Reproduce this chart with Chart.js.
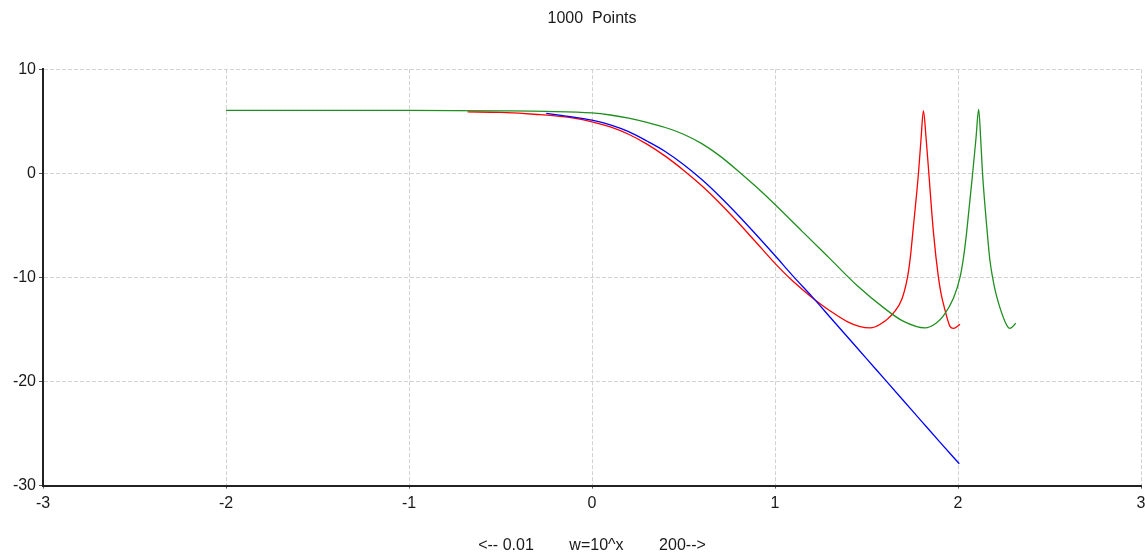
<!DOCTYPE html>
<html>
<head>
<meta charset="utf-8">
<title>1000 Points</title>
<script src="https://cdn.jsdelivr.net/npm/chart.js@4/dist/chart.umd.min.js"></script>
<style>
    body { margin: 0; background: #fff; }
    #bode-graph { display: block; }
</style>
</head>
<body>
<canvas id="bode-graph" width="1145" height="555"></canvas>
<script>
// log10(w) on x, gain in dB on y
const greenX = [-2.0, -1.5, -1.0, -0.5, -0.25, 0, 0.1, 0.2, 0.3, 0.4, 0.5, 0.6, 0.7, 0.8, 0.9, 1.0, 1.15, 1.3, 1.45, 1.6, 1.7, 1.82, 1.88, 1.92, 1.975, 2.011, 2.03, 2.047, 2.080, 2.098, 2.113, 2.124, 2.134, 2.160, 2.174, 2.189, 2.205, 2.229, 2.265, 2.283, 2.316];
const greenY = [6.05, 6.05, 6.05, 6.0, 5.95, 5.8, 5.6, 5.3, 4.9, 4.4, 3.75, 2.85, 1.65, 0.2, -1.35, -3.0, -5.6, -8.2, -10.8, -13.0, -14.2, -14.85, -14.4, -13.7, -12.0, -10.0, -8.1, -5.7, 0.0, 3.3, 6.15, 3.3, 0.0, -5.7, -8.3, -10.0, -11.4, -12.9, -14.55, -14.9, -14.4];

const redX = [-0.68, -0.5, -0.3, -0.1, 0, 0.1, 0.2, 0.3, 0.4, 0.5, 0.6, 0.7, 0.8, 0.9, 1.0, 1.1, 1.2, 1.3, 1.4, 1.46, 1.52, 1.575, 1.648, 1.693, 1.724, 1.74, 1.753, 1.784, 1.798, 1.811, 1.826, 1.838, 1.866, 1.893, 1.908, 1.924, 1.956, 1.975, 2.011];
const redY = [5.9, 5.85, 5.65, 5.3, 4.95, 4.45, 3.75, 2.8, 1.65, 0.3, -1.2, -2.9, -4.75, -6.7, -8.65, -10.4, -11.9, -13.2, -14.3, -14.7, -14.85, -14.5, -13.4, -12.1, -10.0, -8.0, -5.7, 0.0, 3.3, 6.0, 3.3, 0.6, -5.7, -10.0, -11.6, -12.8, -14.7, -14.9, -14.5];

const blueX = [-0.25, -0.1, 0, 0.1, 0.2, 0.3, 0.4, 0.5, 0.6, 0.7, 0.8, 0.9, 1.0, 1.1, 1.2, 1.3, 1.4, 1.5, 1.6, 1.7, 1.8, 1.9, 2.007];
const blueY = [5.75, 5.4, 5.1, 4.65, 4.0, 3.1, 2.1, 0.85, -0.6, -2.25, -4.05, -5.95, -7.9, -9.9, -11.8, -13.8, -15.8, -17.8, -19.8, -21.8, -23.8, -25.8, -27.9];

const xTicks = [-3, -2, -1, 0, 1, 2, 3];
const yTicks = [-30, -20, -10, 0, 10];

const titleText = '1000  Points';
const axisText = '<-- 0.01        w=10^x        200-->';

const FONT = "'Liberation Sans', Arial, sans-serif";
const TEXT_COLOR = '#1a1a1a';

function toPoints(xs, ys) {
    return xs.map((x, i) => ({ x: x, y: ys[i] }));
}

function curve(xs, ys, color) {
    return {
        data: toPoints(xs, ys),
        borderColor: color,
        backgroundColor: color,
        borderWidth: 1.3,
        showLine: true,
        pointRadius: 0,
        cubicInterpolationMode: 'monotone'
    };
}

function initChart() {
    const ctx = document.getElementById('bode-graph').getContext('2d');
    const chart = new Chart(ctx, {
        type: 'scatter',
        data: {
            datasets: [
                curve(greenX, greenY, '#1f8f1f'),
                curve(blueX, blueY, '#0000ff'),
                curve(redX, redY, '#ff0000')
            ]
        },
        options: {
            responsive: false,
            animation: false,
            devicePixelRatio: 1,
            layout: { padding: { left: 0, top: 0, right: 4, bottom: 0 } },
            plugins: {
                legend: { display: false },
                tooltip: { enabled: false },
                title: {
                    display: true,
                    fullSize: false,   // centre over the plot, not the canvas
                    text: titleText,
                    color: TEXT_COLOR,
                    font: { family: FONT, size: 16, weight: 'normal' },
                    padding: { top: 9, bottom: 41 }
                }
            },
            scales: {
                x: {
                    type: 'linear',
                    min: xTicks[0],
                    max: xTicks[xTicks.length - 1],
                    afterBuildTicks: (scale) => {
                        scale.ticks = xTicks.map(v => ({ value: v }));
                    },
                    // let the last tick label run to the canvas edge
                    afterFit: (scale) => {
                        scale.paddingRight = 0;
                    },
                    ticks: {
                        color: TEXT_COLOR,
                        font: { family: FONT, size: 16 },
                        padding: 5,
                        maxRotation: 0
                    },
                    grid: {
                        color: '#d2d2d2',
                        lineWidth: 1,
                        tickLength: 3,
                        tickColor: '#555',
                        tickWidth: 1
                    },
                    border: { display: true, color: '#222', width: 2, dash: [4, 2] },
                    title: {
                        display: true,
                        text: axisText,
                        color: TEXT_COLOR,
                        font: { family: FONT, size: 16 },
                        padding: { top: 18, bottom: 0 }
                    }
                },
                y: {
                    type: 'linear',
                    min: yTicks[0],
                    max: yTicks[yTicks.length - 1],
                    afterBuildTicks: (scale) => {
                        scale.ticks = yTicks.map(v => ({ value: v }));
                    },
                    afterFit: (scale) => {
                        scale.width = 43;
                    },
                    ticks: {
                        color: TEXT_COLOR,
                        font: { family: FONT, size: 16 },
                        padding: 3
                    },
                    grid: {
                        color: '#d2d2d2',
                        lineWidth: 1,
                        tickLength: 4,
                        tickColor: '#555',
                        tickWidth: 1
                    },
                    border: { display: true, color: '#222', width: 2, dash: [4, 2] }
                }
            }
        }
    });
    return chart;
}

initChart();
</script>
</body>
</html>
